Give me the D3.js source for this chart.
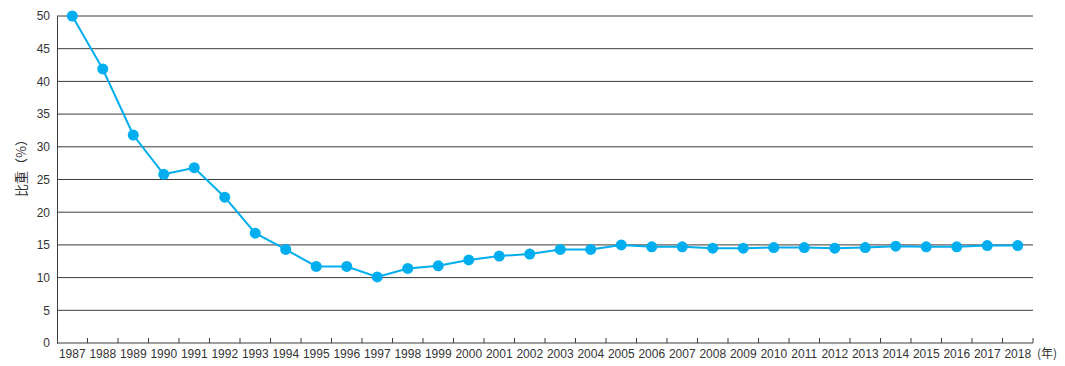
<!DOCTYPE html>
<html>
<head>
<meta charset="utf-8">
<script src="https://cdn.jsdelivr.net/npm/d3@7"></script>
<style>
  html, body { margin: 0; padding: 0; background: #fff; }
  svg { display: block; }
  text { font-family: "Liberation Sans", Arial, Helvetica, sans-serif; fill: #333; }
</style>
</head>
<body>
<svg id="chart" width="1065" height="366"></svg>
<script>
const years = ["1987","1988","1989","1990","1991","1992","1993","1994","1995","1996","1997","1998","1999","2000","2001","2002","2003","2004","2005","2006","2007","2008","2009","2010","2011","2012","2013","2014","2015","2016","2017","2018"];
const shares = [50, 41.9, 31.8, 25.8, 26.8, 22.3, 16.8, 14.3, 11.7, 11.7, 10.1, 11.4, 11.8, 12.7, 13.3, 13.6, 14.3, 14.3, 15.0, 14.7, 14.7, 14.5, 14.5, 14.6, 14.6, 14.5, 14.6, 14.8, 14.7, 14.7, 14.9, 14.9];
const yTicks = [0, 5, 10, 15, 20, 25, 30, 35, 40, 45, 50];
const yTitle = "比重（%）";
const xUnit = "(年)";

const svg = d3.select("#chart");
const mLeft = 57, mRight = 1033, mTop = 16, mBottom = 343;

const x = d3.scaleBand().domain(years).range([mLeft, mRight]).padding(0);
const y = d3.scaleLinear().domain([0, 50]).range([mBottom, mTop]);

// gridlines
svg.append("g").selectAll("line").data(yTicks.filter(d => d > 0)).join("line")
  .attr("x1", mLeft).attr("x2", mRight)
  .attr("y1", d => y(d)).attr("y2", d => y(d))
  .attr("stroke", "#3a3a3a").attr("stroke-width", 1);

// y axis
const yAxis = svg.append("g").attr("transform", `translate(${mLeft},0)`)
  .call(d3.axisLeft(y).tickValues(yTicks).tickSize(0).tickPadding(7));
yAxis.select(".domain").attr("stroke", "#3a3a3a");
yAxis.selectAll("text").style("font-size", "12px").attr("fill", "#333")
  .style("font-family", "\"Liberation Sans\", Arial, sans-serif");

// x axis with ticks at band boundaries
const xg = svg.append("g");
xg.append("line").attr("x1", mLeft).attr("x2", mRight).attr("y1", mBottom).attr("y2", mBottom)
  .attr("stroke", "#3a3a3a").attr("stroke-width", 1);
xg.selectAll("line.tick").data(years.slice(1).concat(["__end"])).join("line")
  .attr("class", "tick")
  .attr("x1", d => d === "__end" ? mRight : x(d))
  .attr("x2", d => d === "__end" ? mRight : x(d))
  .attr("y1", mBottom).attr("y2", mBottom - 5)
  .attr("stroke", "#3a3a3a").attr("stroke-width", 1);
xg.selectAll("text").data(years).join("text")
  .attr("x", d => x(d) + x.bandwidth() / 2)
  .attr("y", 358)
  .attr("text-anchor", "middle")
  .style("font-size", "12px")
  .text(d => d);
svg.append("text").attr("x", mRight + 4).attr("y", 358)
  .style("font-size", "12px").text(xUnit)
  .style("font-family", "\"Noto Sans CJK SC\", sans-serif");

// y title
svg.append("text")
  .attr("transform", `translate(26,165) rotate(-90)`)
  .attr("text-anchor", "middle")
  .style("font-size", "13px")
  .style("font-family", "\"Noto Sans CJK SC\", sans-serif")
  .text(yTitle);

// line
const line = d3.line()
  .x((d, i) => x(years[i]) + x.bandwidth() / 2)
  .y(d => y(d));
svg.append("path").datum(shares)
  .attr("d", line).attr("fill", "none")
  .attr("stroke", "#00aeef").attr("stroke-width", 2);

svg.append("g").selectAll("circle").data(shares).join("circle")
  .attr("cx", (d, i) => x(years[i]) + x.bandwidth() / 2)
  .attr("cy", d => y(d))
  .attr("r", 5.5)
  .attr("fill", "#00aeef");
</script>
</body>
</html>
